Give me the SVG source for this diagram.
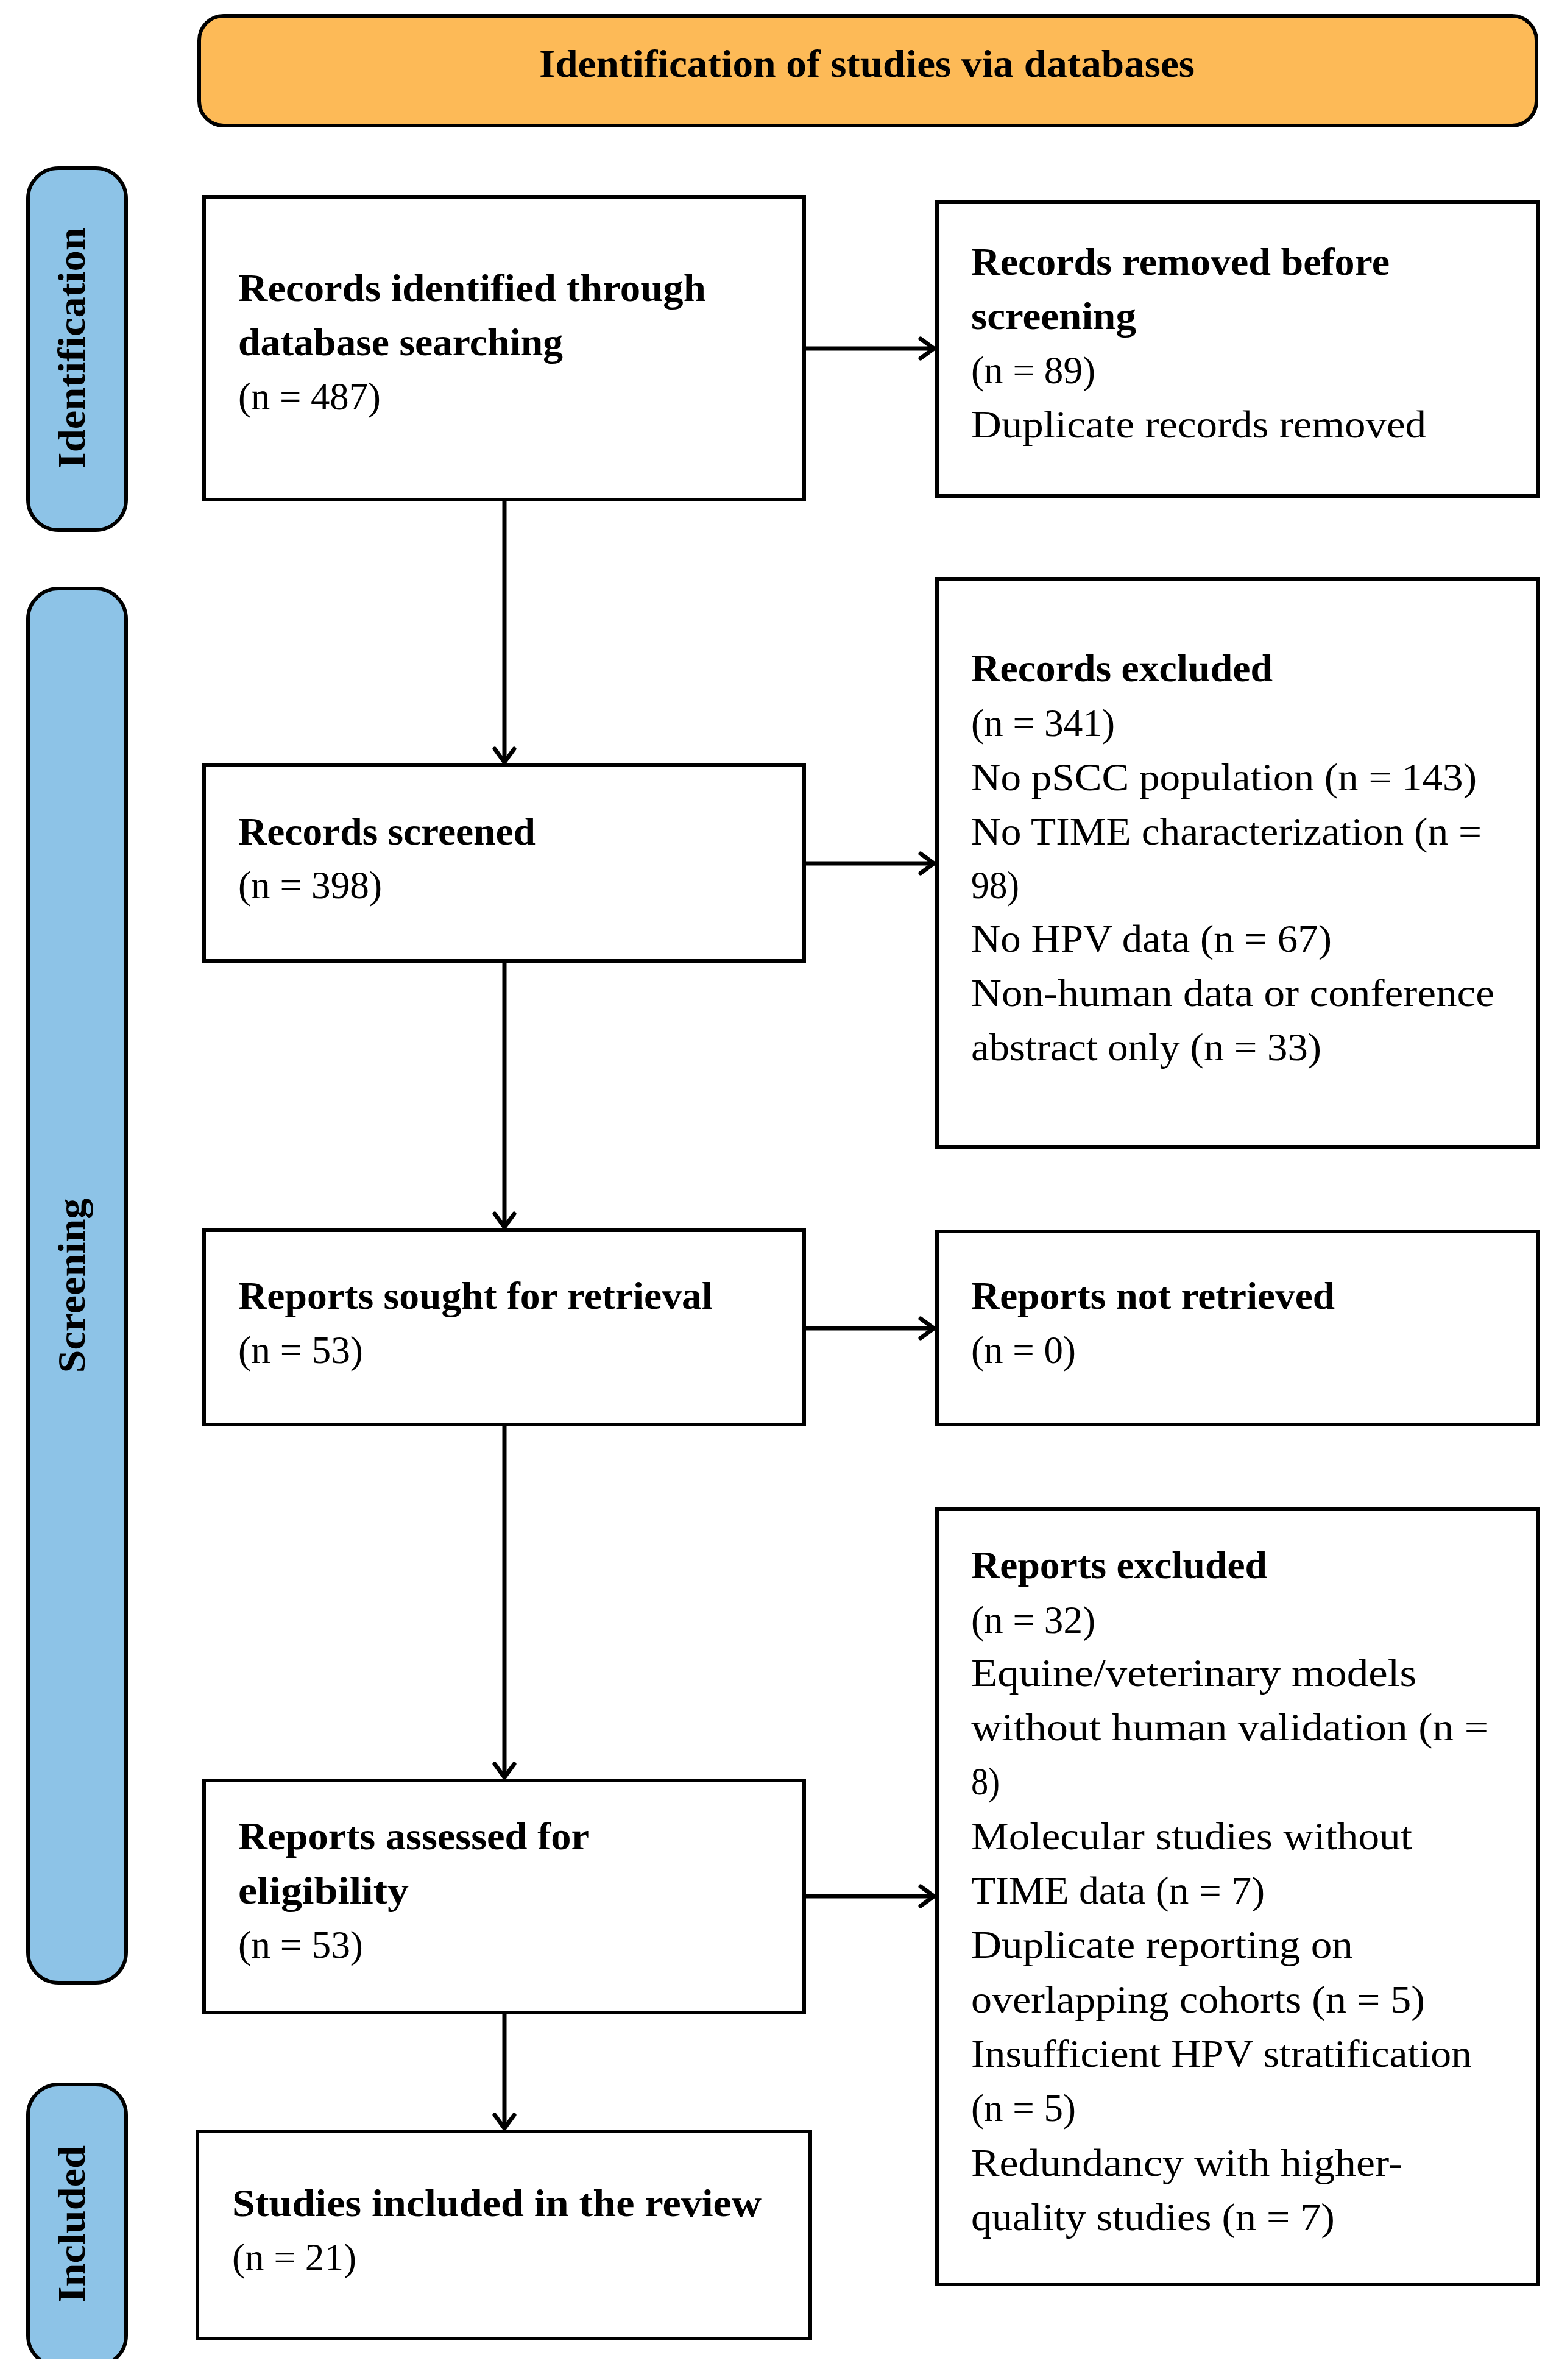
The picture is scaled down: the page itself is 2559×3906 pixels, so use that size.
<svg xmlns="http://www.w3.org/2000/svg" width="2559" height="3906" viewBox="0 0 2559 3906">
<style>
.box{fill:#ffffff;stroke:#000000;stroke-width:6}
.pill{fill:#8DC3E7;stroke:#000000;stroke-width:6}
.hdr{fill:#FDBA57;stroke:#000000;stroke-width:6}
text{font-family:"Liberation Serif","Times New Roman",serif;font-size:64px;fill:#000000}
.b{font-weight:bold}
.conn{stroke:#000000;stroke-width:7;fill:none}
</style>
<defs>
<marker id="arr" markerUnits="userSpaceOnUse" viewBox="-30 -25 40 50" markerWidth="40" markerHeight="50" refX="0" refY="0" orient="auto" overflow="visible">
<path d="M-22,-16 L0,0 L-22,16" fill="none" stroke="#000000" stroke-width="7" stroke-linecap="round" stroke-linejoin="round"/>
</marker>
<clipPath id="clipInc"><rect x="0" y="3400" width="300" height="472"/></clipPath>
</defs>
<rect width="2559" height="3906" fill="#ffffff"/>

<g id="header">
<rect class="hdr" x="327" y="26" width="2195" height="180" rx="40" ry="40"/>
<text class="b" x="1423" y="126" text-anchor="middle" textLength="1076" lengthAdjust="spacingAndGlyphs">Identification of studies via databases</text>
</g>

<g id="phase-identification">
<rect class="pill" x="46" y="276" width="161" height="594" rx="50" ry="50"/>
<text class="b" transform="translate(139,571) rotate(-90)" text-anchor="middle" textLength="396" lengthAdjust="spacingAndGlyphs">Identification</text>
</g>
<g id="phase-screening">
<rect class="pill" x="46" y="966" width="161" height="2288" rx="50" ry="50"/>
<text class="b" transform="translate(139,2110) rotate(-90)" text-anchor="middle" textLength="287" lengthAdjust="spacingAndGlyphs">Screening</text>
</g>
<g id="phase-included">
<rect class="pill" x="46" y="3421" width="161" height="462" rx="50" ry="50" clip-path="url(#clipInc)"/>
<text class="b" transform="translate(139,3650) rotate(-90)" text-anchor="middle" textLength="258" lengthAdjust="spacingAndGlyphs">Included</text>
</g>

<g id="records-identified">
<rect class="box" x="335" y="323" width="985" height="497"/>
<text class="b" x="391" y="494" textLength="768" lengthAdjust="spacingAndGlyphs">Records identified through</text>
<text class="b" x="391" y="583" textLength="533" lengthAdjust="spacingAndGlyphs">database searching</text>
<text x="391" y="672" textLength="234" lengthAdjust="spacingAndGlyphs">(n = 487)</text>
</g>

<g id="records-removed">
<rect class="box" x="1538" y="331" width="986" height="483"/>
<text class="b" x="1594" y="451" textLength="687" lengthAdjust="spacingAndGlyphs">Records removed before</text>
<text class="b" x="1594" y="540" textLength="271" lengthAdjust="spacingAndGlyphs">screening</text>
<text x="1594" y="629" textLength="204" lengthAdjust="spacingAndGlyphs">(n = 89)</text>
<text x="1594" y="718" textLength="747" lengthAdjust="spacingAndGlyphs">Duplicate records removed</text>
</g>

<g id="records-screened">
<rect class="box" x="335" y="1256" width="985" height="321"/>
<text class="b" x="391" y="1386" textLength="488" lengthAdjust="spacingAndGlyphs">Records screened</text>
<text x="391" y="1474" textLength="236" lengthAdjust="spacingAndGlyphs">(n = 398)</text>
</g>

<g id="records-excluded">
<rect class="box" x="1538" y="950" width="986" height="932"/>
<text class="b" x="1594" y="1118" textLength="495" lengthAdjust="spacingAndGlyphs">Records excluded</text>
<text x="1594" y="1208" textLength="236" lengthAdjust="spacingAndGlyphs">(n = 341)</text>
<text x="1594" y="1297" textLength="830" lengthAdjust="spacingAndGlyphs">No pSCC population (n = 143)</text>
<text x="1594" y="1386" textLength="838" lengthAdjust="spacingAndGlyphs">No TIME characterization (n =</text>
<text x="1594" y="1474" textLength="79" lengthAdjust="spacingAndGlyphs">98)</text>
<text x="1594" y="1562" textLength="592" lengthAdjust="spacingAndGlyphs">No HPV data (n = 67)</text>
<text x="1594" y="1651" textLength="859" lengthAdjust="spacingAndGlyphs">Non-human data or conference</text>
<text x="1594" y="1740" textLength="575" lengthAdjust="spacingAndGlyphs">abstract only (n = 33)</text>
</g>

<g id="reports-sought">
<rect class="box" x="335" y="2019" width="985" height="319"/>
<text class="b" x="391" y="2148" textLength="779" lengthAdjust="spacingAndGlyphs">Reports sought for retrieval</text>
<text x="391" y="2237" textLength="205" lengthAdjust="spacingAndGlyphs">(n = 53)</text>
</g>

<g id="reports-not-retrieved">
<rect class="box" x="1538" y="2021" width="986" height="317"/>
<text class="b" x="1594" y="2148" textLength="597" lengthAdjust="spacingAndGlyphs">Reports not retrieved</text>
<text x="1594" y="2237" textLength="172" lengthAdjust="spacingAndGlyphs">(n = 0)</text>
</g>

<g id="reports-assessed">
<rect class="box" x="335" y="2922" width="985" height="381"/>
<text class="b" x="391" y="3035" textLength="576" lengthAdjust="spacingAndGlyphs">Reports assessed for</text>
<text class="b" x="391" y="3124" textLength="280" lengthAdjust="spacingAndGlyphs">eligibility</text>
<text x="391" y="3213" textLength="205" lengthAdjust="spacingAndGlyphs">(n = 53)</text>
</g>

<g id="reports-excluded">
<rect class="box" x="1538" y="2476" width="986" height="1273"/>
<text class="b" x="1594" y="2590" textLength="486" lengthAdjust="spacingAndGlyphs">Reports excluded</text>
<text x="1594" y="2680" textLength="204" lengthAdjust="spacingAndGlyphs">(n = 32)</text>
<text x="1594" y="2767" textLength="731" lengthAdjust="spacingAndGlyphs">Equine/veterinary models</text>
<text x="1594" y="2856" textLength="849" lengthAdjust="spacingAndGlyphs">without human validation (n =</text>
<text x="1594" y="2945" textLength="47" lengthAdjust="spacingAndGlyphs">8)</text>
<text x="1594" y="3035" textLength="724" lengthAdjust="spacingAndGlyphs">Molecular studies without</text>
<text x="1594" y="3124" textLength="482" lengthAdjust="spacingAndGlyphs">TIME data (n = 7)</text>
<text x="1594" y="3213" textLength="627" lengthAdjust="spacingAndGlyphs">Duplicate reporting on</text>
<text x="1594" y="3303" textLength="745" lengthAdjust="spacingAndGlyphs">overlapping cohorts (n = 5)</text>
<text x="1594" y="3392" textLength="822" lengthAdjust="spacingAndGlyphs">Insufficient HPV stratification</text>
<text x="1594" y="3481" textLength="172" lengthAdjust="spacingAndGlyphs">(n = 5)</text>
<text x="1594" y="3571" textLength="708" lengthAdjust="spacingAndGlyphs">Redundancy with higher-</text>
<text x="1594" y="3660" textLength="597" lengthAdjust="spacingAndGlyphs">quality studies (n = 7)</text>
</g>

<g id="studies-included">
<rect class="box" x="324" y="3498" width="1006" height="340"/>
<text class="b" x="381" y="3637" textLength="869" lengthAdjust="spacingAndGlyphs">Studies included in the review</text>
<text x="381" y="3726" textLength="204" lengthAdjust="spacingAndGlyphs">(n = 21)</text>
</g>

<g id="connectors">
<line class="conn" x1="1323" y1="572" x2="1533" y2="572" marker-end="url(#arr)"/>
<line class="conn" x1="1323" y1="1417" x2="1533" y2="1417" marker-end="url(#arr)"/>
<line class="conn" x1="1323" y1="2180" x2="1533" y2="2180" marker-end="url(#arr)"/>
<line class="conn" x1="1323" y1="3112" x2="1533" y2="3112" marker-end="url(#arr)"/>
<line class="conn" x1="828" y1="823" x2="828" y2="1251" marker-end="url(#arr)"/>
<line class="conn" x1="828" y1="1580" x2="828" y2="2014" marker-end="url(#arr)"/>
<line class="conn" x1="828" y1="2341" x2="828" y2="2917" marker-end="url(#arr)"/>
<line class="conn" x1="828" y1="3306" x2="828" y2="3493" marker-end="url(#arr)"/>
</g>
</svg>
